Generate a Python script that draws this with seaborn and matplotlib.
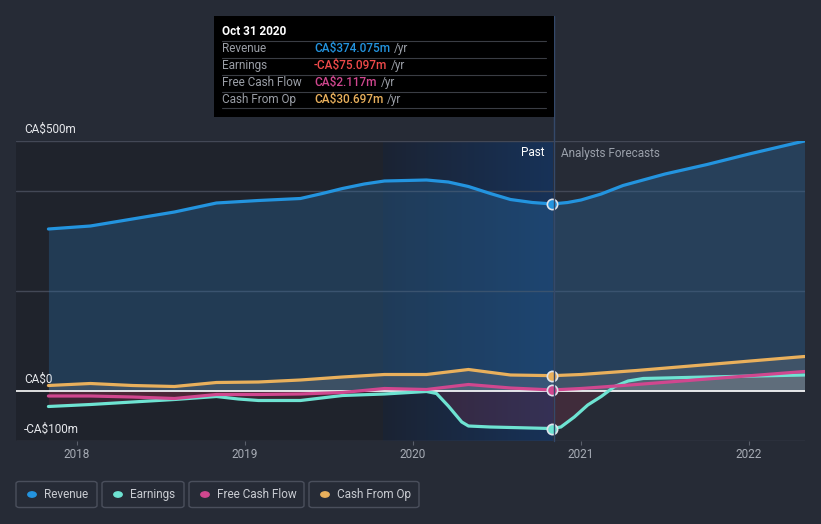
import numpy as np
import pandas as pd
import matplotlib
matplotlib.use("Agg")
import matplotlib.pyplot as plt
import seaborn as sns
from matplotlib.patches import FancyBboxPatch, Rectangle, Circle
from matplotlib.lines import Line2D
from matplotlib.colors import LinearSegmentedColormap

# ---------------- data ----------------
rev_t = [2017.83, 2018.08, 2018.33, 2018.58, 2018.83, 2019.08, 2019.33, 2019.46, 2019.58, 2019.71, 2019.83, 2020.08, 2020.21, 2020.33, 2020.46, 2020.58, 2020.71, 2020.83]
rev_v = [324, 330, 344, 358, 376, 381, 385, 395, 405, 414, 420, 422, 418, 409, 395, 383, 377, 374.075]
rev_ft = [2020.83, 2020.92, 2021.0, 2021.12, 2021.25, 2021.5, 2021.75, 2022.0, 2022.33]
rev_fv = [374.075, 377, 382, 394, 411, 434, 453, 474, 500]

earn_t = [2017.83, 2018.08, 2018.33, 2018.58, 2018.83, 2018.96, 2019.08, 2019.33, 2019.58, 2019.83, 2020.08, 2020.14, 2020.21, 2020.29, 2020.33, 2020.46, 2020.58, 2020.83]
earn_v = [-31, -27, -22, -17, -11, -16, -19, -19, -9, -6, -1, -5, -30, -62, -70, -72, -73, -75.097]
earn_ft = [2020.83, 2020.88, 2020.96, 2021.04, 2021.12, 2021.2, 2021.28, 2021.37, 2021.75, 2022.33]
earn_fv = [-75.097, -72, -52, -28, -11, 9, 20, 25, 28, 32]

fcf_t = [2017.83, 2018.08, 2018.33, 2018.58, 2018.83, 2019.08, 2019.33, 2019.58, 2019.83, 2020.08, 2020.33, 2020.58, 2020.83]
fcf_v = [-10, -10, -12, -15, -7, -7, -6, -3, 5, 3, 13, 6, 2.117]
fcf_ft = [2020.83, 2021.0, 2021.33, 2021.83, 2022.33]
fcf_fv = [2.117, 5, 13, 26, 39]

cfo_t = [2017.83, 2018.08, 2018.33, 2018.58, 2018.83, 2019.08, 2019.33, 2019.58, 2019.83, 2020.08, 2020.33, 2020.58, 2020.83]
cfo_v = [11, 15, 11, 9, 17, 18, 22, 28, 33, 33, 43, 32, 30.697]
cfo_ft = [2020.83, 2021.0, 2021.33, 2021.83, 2022.33]
cfo_fv = [30.697, 33, 41, 55, 69]

series_names = ["Revenue", "Earnings", "Free Cash Flow", "Cash From Op"]
tooltip_values = ["CA$374.075m", "-CA$75.097m", "CA$2.117m", "CA$30.697m"]
tooltip_date = "Oct 31 2020"
year_ticks = [2018, 2019, 2020, 2021, 2022]
ytick_vals = [500, 0, -100]
ytick_labels = ["CA$500m", "CA$0", "-CA$100m"]

colors = {"Revenue": "#2394df", "Earnings": "#6ee3d2", "Free Cash Flow": "#d0478f", "Cash From Op": "#e9b05c"}
value_colors = ["#2394df", "#ef4a4a", "#d0478f", "#e9b05c"]

past = {"Revenue": (rev_t, rev_v), "Earnings": (earn_t, earn_v),
        "Free Cash Flow": (fcf_t, fcf_v), "Cash From Op": (cfo_t, cfo_v)}
fore = {"Revenue": (rev_ft, rev_fv), "Earnings": (earn_ft, earn_fv),
        "Free Cash Flow": (fcf_ft, fcf_fv), "Cash From Op": (cfo_ft, cfo_fv)}

rows = []
for name in series_names:
    for t, v in zip(*past[name]):
        rows.append({"t": t, "v": v, "series": name, "seg": "past"})
    for t, v in zip(*fore[name]):
        rows.append({"t": t, "v": v, "series": name, "seg": "fore"})
df = pd.DataFrame(rows)

# ---------------- figure ----------------
sns.set_style("dark")
plt.rcParams["font.family"] = ["Roboto", "DejaVu Sans"]
BG = "#262b36"
W, H = 821, 524
fig = plt.figure(figsize=(W / 100, H / 100), dpi=100, facecolor=BG)

def fx(px):
    return px / W

def fy(py):
    return 1 - py / H

ax = fig.add_axes([fx(16), fy(441), (805 - 16) / W, 300 / H])
ax.set_facecolor(BG)
x0, x1 = 2017.637, 2022.333
ax.set_xlim(x0, x1)
ax.set_ylim(-100, 500)
for s in ax.spines.values():
    s.set_visible(False)

past_start = 2019.82
now = 2020.83
ax.axvspan(x0, past_start, color="#1f232c", zorder=0, lw=0)
grad = np.linspace(0, 1, 256).reshape(1, -1)
cmap = LinearSegmentedColormap.from_list("g", ["#1b2333", "#173258"])
ax.imshow(grad, extent=[past_start, now, -100, 500], aspect="auto", cmap=cmap, zorder=0.5, interpolation="bicubic")

for gy in [500, 400, 200, -100]:
    ax.axhline(gy, color="#434856", lw=1, zorder=1)

# fills
rt = rev_t + rev_ft[1:]
rv = rev_v + rev_fv[1:]
ax.fill_between(rt, rv, 0, color="#2a6aa0", alpha=0.35, lw=0, zorder=1.5)
for name, a in [("Cash From Op", 0.35), ("Free Cash Flow", 0.18), ("Earnings", 0.22)]:
    t = list(past[name][0]) + list(fore[name][0][1:])
    v = np.array(list(past[name][1]) + list(fore[name][1][1:]), dtype=float)
    ax.fill_between(t, v, 0, where=v >= 0, color="#8a8f95", alpha=0.25, lw=0, zorder=1.6, interpolate=True)
    ax.fill_between(t, v, 0, where=v < 0, color="#a0304f", alpha=a, lw=0, zorder=1.6, interpolate=True)

ax.axhline(0, color="#ffffff", lw=1.2, zorder=2)

for seg in ["past", "fore"]:
    sns.lineplot(data=df[df.seg == seg], x="t", y="v", hue="series", palette=colors,
                 hue_order=series_names, lw=2.3, ax=ax, legend=False, zorder=3,
                 estimator=None, sort=True)
for ln in ax.lines:
    ln.set_solid_joinstyle("round")
    ln.set_solid_capstyle("round")

for name in series_names:
    t, v = past[name]
    ax.scatter([t[-1]], [v[-1]], s=55, color=colors[name], edgecolor="#dfe3ea", linewidth=1.2, zorder=5)

ax.set_xlabel("")
ax.set_ylabel("")
ax.set_yticks([])
ax.set_xticks(year_ticks)
ax.set_xticklabels([str(y) for y in year_ticks], color="#a7acb5", fontsize=8.5)
ax.tick_params(axis="x", length=3, color="#5a5f6b", pad=2, bottom=True)
ax.grid(False)

for val, lab, py in zip(ytick_vals, ytick_labels, [129, 379, 429]):
    fig.text(fx(24), fy(py), lab.replace("$", r"\$"), color="#e6e8ec", fontsize=8.5, va="center", ha="left")

fig.text(fx(545), fy(153), "Past", color="#ffffff", fontsize=8.5, ha="right", va="center")
fig.text(fx(561), fy(153), "Analysts Forecasts", color="#9aa0aa", fontsize=8.5, ha="left", va="center")

fig.add_artist(Line2D([fx(553.5), fx(553.5)], [fy(16), fy(441)], color="#34496a", lw=1, zorder=2))

# tooltip
fig.add_artist(Rectangle((fx(214), fy(117)), (554 - 214) / W, (117 - 16) / H, facecolor="#000000",
                         edgecolor="none", zorder=10))
fig.text(fx(222), fy(31.5), tooltip_date, color="#ffffff", fontsize=8.5, fontweight="bold", va="center", zorder=11)
for sy in [40.5, 57.5, 74.5, 91.5, 108.5]:
    fig.add_artist(Line2D([fx(222), fx(546)], [fy(sy), fy(sy)], color="#3a3d44", lw=0.8, zorder=11))
row_y = [48.5, 65.5, 82.5, 99.5]
value_texts = []
for name, val, col, py in zip(series_names, tooltip_values, value_colors, row_y):
    fig.text(fx(222), fy(py), name, color="#9a9ea6", fontsize=8.5, va="center", zorder=11)
    t = fig.text(fx(314), fy(py), val.replace("$", r"\$"), color=col, fontsize=8.5, va="center", zorder=11, fontweight="medium")
    value_texts.append((t, py))
fig.canvas.draw()
r = fig.canvas.get_renderer()
for t, py in value_texts:
    bb = t.get_window_extent(renderer=r)
    fig.text(bb.x1 / W + fx(4), fy(py), "/yr", color="#9a9ea6", fontsize=8.5, va="center", zorder=11)

# legend
boxes = [(16, 97), (102, 184), (189, 304), (309, 419)]
for name, (bx0, bx1) in zip(series_names, boxes):
    fig.add_artist(FancyBboxPatch((fx(bx0), fy(507.5)), (bx1 - bx0) / W, 26 / H,
                                  boxstyle="round,pad=0,rounding_size=0.004", facecolor="none",
                                  edgecolor="#4a4f5c", lw=1, transform=fig.transFigure))
    fig.add_artist(Circle((fx(bx0 + 16), fy(494.5)), 4.2 / W, color=colors[name], transform=fig.transFigure))
    fig.text(fx(bx0 + 28), fy(494.5), name, color="#c9ccd2", fontsize=8.5, va="center")

fig.savefig("out.png", dpi=100, facecolor=BG)
